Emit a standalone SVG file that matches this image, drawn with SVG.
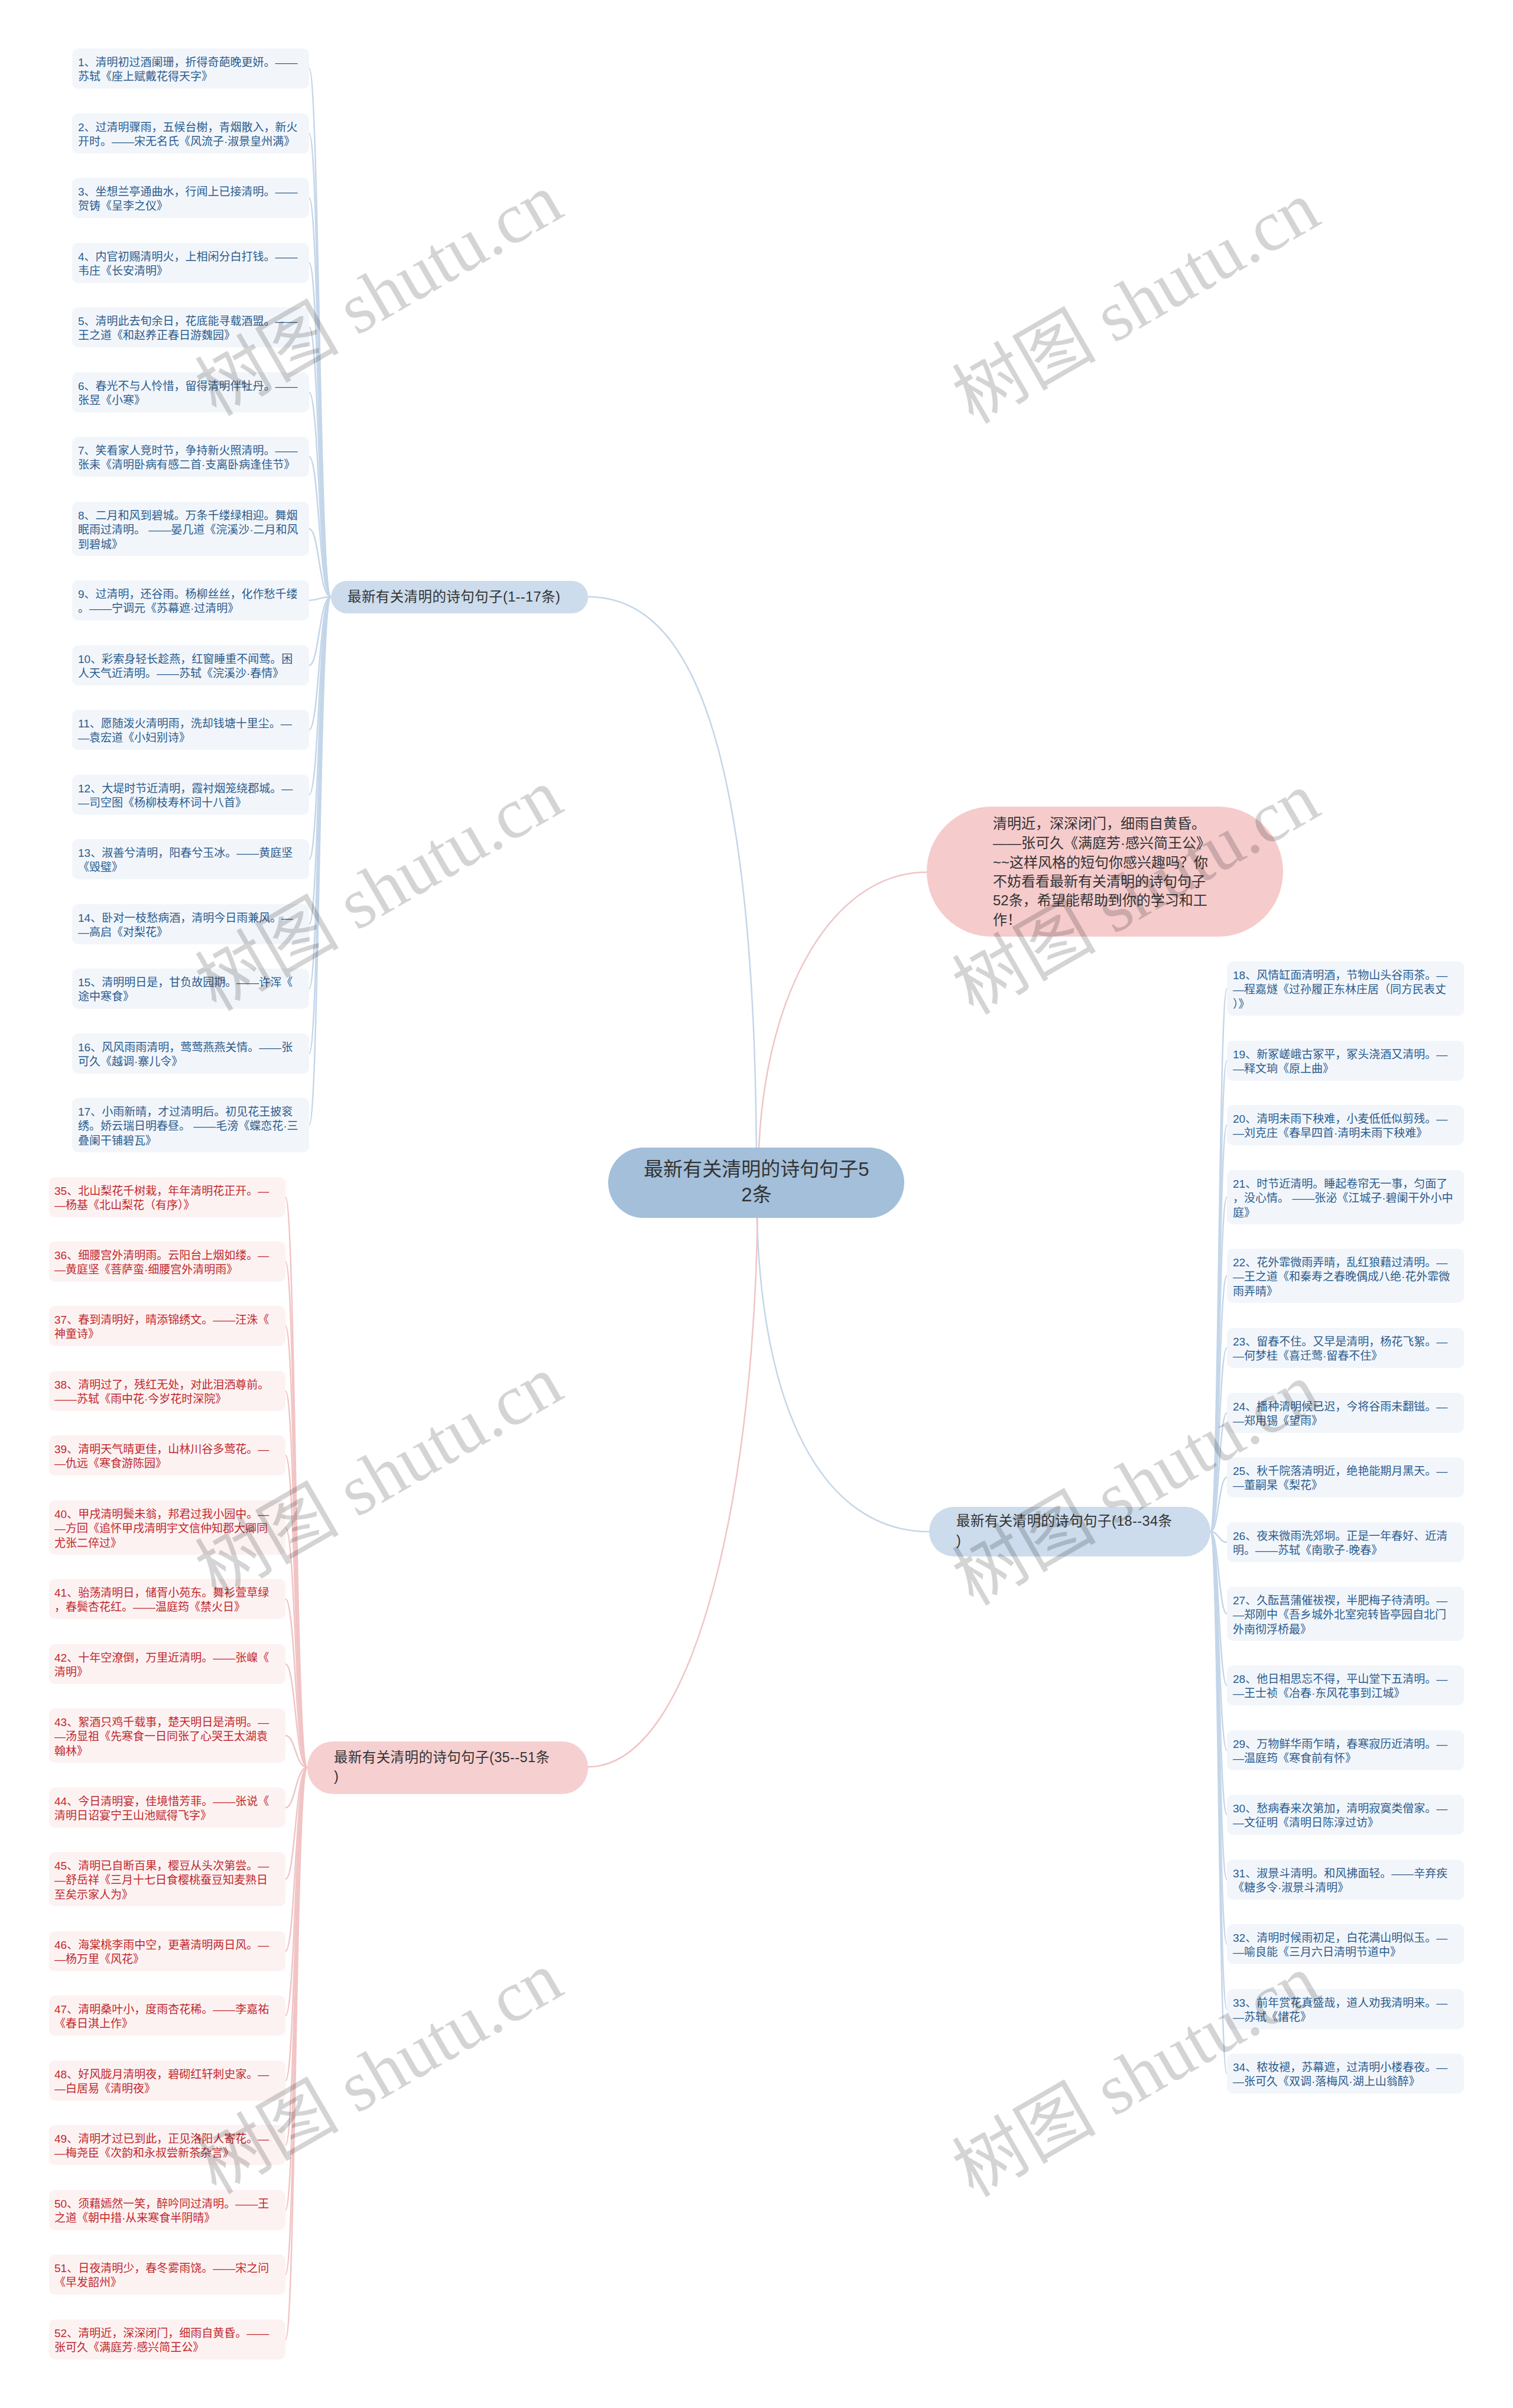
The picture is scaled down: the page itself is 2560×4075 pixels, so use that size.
<svg xmlns="http://www.w3.org/2000/svg" width="2560" height="4075" viewBox="0 0 2560 4075">
<style>
text{font-family:"Liberation Sans","Noto Sans CJK SC",sans-serif}
.cb{fill:none;stroke:#c4d6e9;stroke-width:2.5}
.cp{fill:none;stroke:#f1c4c5;stroke-width:2.5}
.bb{fill:#f2f6fb}
.pb{fill:#fdf2f2}
.bt{font-size:19px;fill:#2b5c8e}
.pt{font-size:19px;fill:#c0282d}
.br{font-size:23.5px;fill:#333;letter-spacing:0.4px}
.wm{font-family:"Liberation Serif","Noto Sans CJK SC",serif;font-size:122px;fill:#000;fill-opacity:0.17;text-anchor:middle}
</style>
<rect width="2560" height="4075" fill="#fff"/>
<g id="connectors">
<path class="cb" d="M995 1010 C1150 1010 1280 1200 1280 1990"/>
<path class="cp" d="M1568 1476 C1400 1476 1283 1700 1283 1990"/>
<path class="cb" d="M1280 2010 C1280 2400 1400 2592 1572 2592"/>
<path class="cp" d="M1282 2010 C1282 2500 1180 2990 995 2990"/>
<g id="c-left-top">
<path class="cb" d="M560 1010 C540 1010 540 116 523 116"/>
<path class="cb" d="M560 1010 C540 1010 540 226 523 226"/>
<path class="cb" d="M560 1010 C540 1010 540 335 523 335"/>
<path class="cb" d="M560 1010 C540 1010 540 445 523 445"/>
<path class="cb" d="M560 1010 C540 1010 540 554 523 554"/>
<path class="cb" d="M560 1010 C540 1010 540 664 523 664"/>
<path class="cb" d="M560 1010 C540 1010 540 773 523 773"/>
<path class="cb" d="M560 1010 C540 1010 540 895 523 895"/>
<path class="cb" d="M560 1010 C540 1010 540 1016 523 1016"/>
<path class="cb" d="M560 1010 C540 1010 540 1126 523 1126"/>
<path class="cb" d="M560 1010 C540 1010 540 1235 523 1235"/>
<path class="cb" d="M560 1010 C540 1010 540 1345 523 1345"/>
<path class="cb" d="M560 1010 C540 1010 540 1454 523 1454"/>
<path class="cb" d="M560 1010 C540 1010 540 1564 523 1564"/>
<path class="cb" d="M560 1010 C540 1010 540 1673 523 1673"/>
<path class="cb" d="M560 1010 C540 1010 540 1783 523 1783"/>
<path class="cb" d="M560 1010 C540 1010 540 1904 523 1904"/>
</g>
<g id="c-right">
<path class="cb" d="M2048 2592 C2062 2592 2062 1673 2076 1673"/>
<path class="cb" d="M2048 2592 C2062 2592 2062 1795 2076 1795"/>
<path class="cb" d="M2048 2592 C2062 2592 2062 1904 2076 1904"/>
<path class="cb" d="M2048 2592 C2062 2592 2062 2026 2076 2026"/>
<path class="cb" d="M2048 2592 C2062 2592 2062 2159 2076 2159"/>
<path class="cb" d="M2048 2592 C2062 2592 2062 2281 2076 2281"/>
<path class="cb" d="M2048 2592 C2062 2592 2062 2391 2076 2391"/>
<path class="cb" d="M2048 2592 C2062 2592 2062 2500 2076 2500"/>
<path class="cb" d="M2048 2592 C2062 2592 2062 2610 2076 2610"/>
<path class="cb" d="M2048 2592 C2062 2592 2062 2731 2076 2731"/>
<path class="cb" d="M2048 2592 C2062 2592 2062 2852 2076 2852"/>
<path class="cb" d="M2048 2592 C2062 2592 2062 2962 2076 2962"/>
<path class="cb" d="M2048 2592 C2062 2592 2062 3071 2076 3071"/>
<path class="cb" d="M2048 2592 C2062 2592 2062 3181 2076 3181"/>
<path class="cb" d="M2048 2592 C2062 2592 2062 3290 2076 3290"/>
<path class="cb" d="M2048 2592 C2062 2592 2062 3400 2076 3400"/>
<path class="cb" d="M2048 2592 C2062 2592 2062 3509 2076 3509"/>
</g>
<g id="c-left-bottom">
<path class="cp" d="M520 2991 C500 2991 500 2026 483 2026"/>
<path class="cp" d="M520 2991 C500 2991 500 2135 483 2135"/>
<path class="cp" d="M520 2991 C500 2991 500 2244 483 2244"/>
<path class="cp" d="M520 2991 C500 2991 500 2354 483 2354"/>
<path class="cp" d="M520 2991 C500 2991 500 2463 483 2463"/>
<path class="cp" d="M520 2991 C500 2991 500 2585 483 2585"/>
<path class="cp" d="M520 2991 C500 2991 500 2706 483 2706"/>
<path class="cp" d="M520 2991 C500 2991 500 2816 483 2816"/>
<path class="cp" d="M520 2991 C500 2991 500 2937 483 2937"/>
<path class="cp" d="M520 2991 C500 2991 500 3059 483 3059"/>
<path class="cp" d="M520 2991 C500 2991 500 3180 483 3180"/>
<path class="cp" d="M520 2991 C500 2991 500 3302 483 3302"/>
<path class="cp" d="M520 2991 C500 2991 500 3411 483 3411"/>
<path class="cp" d="M520 2991 C500 2991 500 3521 483 3521"/>
<path class="cp" d="M520 2991 C500 2991 500 3630 483 3630"/>
<path class="cp" d="M520 2991 C500 2991 500 3740 483 3740"/>
<path class="cp" d="M520 2991 C500 2991 500 3849 483 3849"/>
<path class="cp" d="M520 2991 C500 2991 500 3959 483 3959"/>
</g>
</g>

<g id="center">
<rect x="1029" y="1942" width="501" height="119" rx="59.5" fill="#a3bfda"/>
<text x="1280" y="1990" font-size="33" fill="#333" text-anchor="middle"><tspan x="1280" y="1990">最新有关清明的诗句句子5</tspan><tspan x="1280" y="2033">2条</tspan></text>
</g>

<g id="callout">
<rect x="1568" y="1365" width="603" height="220" rx="110" fill="#f5cbcc"/>
<text font-size="24" fill="#333"><tspan x="1680" y="1402">清明近，深深闭门，细雨自黄昏。</tspan><tspan x="1680" y="1435">——张可久《满庭芳·感兴简王公》</tspan><tspan x="1680" y="1468">~~这样风格的短句你感兴趣吗？你</tspan><tspan x="1680" y="1500">不妨看看最新有关清明的诗句句子</tspan><tspan x="1680" y="1532">52条，希望能帮助到你的学习和工</tspan><tspan x="1680" y="1565">作！</tspan></text>
</g>

<g id="branch-1-17">
<rect x="560" y="983" width="435" height="55" rx="27.5" fill="#ccdcec"/>
<text class="br" x="588" y="1018">最新有关清明的诗句句子(1--17条)</text>
</g>
<g id="branch-18-34">
<rect x="1572" y="2550" width="476" height="84" rx="42" fill="#ccdcec"/>
<text class="br"><tspan x="1618" y="2582">最新有关清明的诗句句子(18--34条</tspan><tspan x="1618" y="2615">)</tspan></text>
</g>
<g id="branch-35-51">
<rect x="520" y="2947" width="475" height="89" rx="44" fill="#f6cfd0"/>
<text class="br"><tspan x="565" y="2982">最新有关清明的诗句句子(35--51条</tspan><tspan x="565" y="3014">)</tspan></text>
</g>

<g id="n1"><rect class="bb" x="122" y="82" width="401" height="68" rx="10"/><text class="bt"><tspan x="132" y="111.5">1、清明初过酒阑珊，折得奇葩晚更妍。——</tspan><tspan x="132" y="136">苏轼《座上赋戴花得天字》</tspan></text></g>
<g id="n2"><rect class="bb" x="122" y="192" width="401" height="68" rx="10"/><text class="bt"><tspan x="132" y="221.5">2、过清明骤雨，五候台榭，青烟散入，新火</tspan><tspan x="132" y="246">开时。——宋无名氏《风流子·淑景皇州满》</tspan></text></g>
<g id="n3"><rect class="bb" x="122" y="301" width="401" height="68" rx="10"/><text class="bt"><tspan x="132" y="330.5">3、坐想兰亭通曲水，行闻上已接清明。——</tspan><tspan x="132" y="355">贺铸《呈李之仪》</tspan></text></g>
<g id="n4"><rect class="bb" x="122" y="411" width="401" height="68" rx="10"/><text class="bt"><tspan x="132" y="440.5">4、内官初赐清明火，上相闲分白打钱。——</tspan><tspan x="132" y="465">韦庄《长安清明》</tspan></text></g>
<g id="n5"><rect class="bb" x="122" y="520" width="401" height="68" rx="10"/><text class="bt"><tspan x="132" y="549.5">5、清明此去旬余日，花底能寻载酒盟。——</tspan><tspan x="132" y="574">王之道《和赵养正春日游魏园》</tspan></text></g>
<g id="n6"><rect class="bb" x="122" y="630" width="401" height="68" rx="10"/><text class="bt"><tspan x="132" y="659.5">6、春光不与人怜惜，留得清明伴牡丹。——</tspan><tspan x="132" y="684">张昱《小寒》</tspan></text></g>
<g id="n7"><rect class="bb" x="122" y="739" width="401" height="68" rx="10"/><text class="bt"><tspan x="132" y="768.5">7、笑看家人竞时节，争持新火照清明。——</tspan><tspan x="132" y="793">张耒《清明卧病有感二首·支离卧病逢佳节》</tspan></text></g>
<g id="n8"><rect class="bb" x="122" y="849" width="401" height="92" rx="10"/><text class="bt"><tspan x="132" y="878.5">8、二月和风到碧城。万条千缕绿相迎。舞烟</tspan><tspan x="132" y="903">眠雨过清明。 ——晏几道《浣溪沙·二月和风</tspan><tspan x="132" y="927.5">到碧城》</tspan></text></g>
<g id="n9"><rect class="bb" x="122" y="982" width="401" height="68" rx="10"/><text class="bt"><tspan x="132" y="1011.5">9、过清明，还谷雨。杨柳丝丝，化作愁千缕</tspan><tspan x="132" y="1036">。——宁调元《苏幕遮·过清明》</tspan></text></g>
<g id="n10"><rect class="bb" x="122" y="1092" width="401" height="68" rx="10"/><text class="bt"><tspan x="132" y="1121.5">10、彩索身轻长趁燕，红窗睡重不闻莺。困</tspan><tspan x="132" y="1146">人天气近清明。——苏轼《浣溪沙·春情》</tspan></text></g>
<g id="n11"><rect class="bb" x="122" y="1201" width="401" height="68" rx="10"/><text class="bt"><tspan x="132" y="1230.5">11、愿随泼火清明雨，洗却钱塘十里尘。—</tspan><tspan x="132" y="1255">—袁宏道《小妇别诗》</tspan></text></g>
<g id="n12"><rect class="bb" x="122" y="1311" width="401" height="68" rx="10"/><text class="bt"><tspan x="132" y="1340.5">12、大堤时节近清明，霞衬烟笼绕郡城。—</tspan><tspan x="132" y="1365">—司空图《杨柳枝寿杯词十八首》</tspan></text></g>
<g id="n13"><rect class="bb" x="122" y="1420" width="401" height="68" rx="10"/><text class="bt"><tspan x="132" y="1449.5">13、淑善兮清明，阳春兮玉冰。——黄庭坚</tspan><tspan x="132" y="1474">《毁璧》</tspan></text></g>
<g id="n14"><rect class="bb" x="122" y="1530" width="401" height="68" rx="10"/><text class="bt"><tspan x="132" y="1559.5">14、卧对一枝愁病酒，清明今日雨兼风。—</tspan><tspan x="132" y="1584">—高启《对梨花》</tspan></text></g>
<g id="n15"><rect class="bb" x="122" y="1639" width="401" height="68" rx="10"/><text class="bt"><tspan x="132" y="1668.5">15、清明明日是，甘负故园期。——许浑《</tspan><tspan x="132" y="1693">途中寒食》</tspan></text></g>
<g id="n16"><rect class="bb" x="122" y="1749" width="401" height="68" rx="10"/><text class="bt"><tspan x="132" y="1778.5">16、风风雨雨清明，莺莺燕燕关情。——张</tspan><tspan x="132" y="1803">可久《越调·寨儿令》</tspan></text></g>
<g id="n17"><rect class="bb" x="122" y="1858" width="401" height="92" rx="10"/><text class="bt"><tspan x="132" y="1887.5">17、小雨新晴，才过清明后。初见花王披衮</tspan><tspan x="132" y="1912">绣。娇云瑞日明春昼。 ——毛滂《蝶恋花·三</tspan><tspan x="132" y="1936.5">叠阑干铺碧瓦》</tspan></text></g>

<g id="n18"><rect class="bb" x="2076" y="1627" width="401" height="92" rx="10"/><text class="bt"><tspan x="2086" y="1656.5">18、风情缸面清明酒，节物山头谷雨茶。—</tspan><tspan x="2086" y="1681">—程嘉燧《过孙履正东林庄居（同方民表丈</tspan><tspan x="2086" y="1705.5">）》</tspan></text></g>
<g id="n19"><rect class="bb" x="2076" y="1761" width="401" height="68" rx="10"/><text class="bt"><tspan x="2086" y="1790.5">19、新冢嵯峨古冢平，冢头浇酒又清明。—</tspan><tspan x="2086" y="1815">—释文珦《原上曲》</tspan></text></g>
<g id="n20"><rect class="bb" x="2076" y="1870" width="401" height="68" rx="10"/><text class="bt"><tspan x="2086" y="1899.5">20、清明未雨下秧难，小麦低低似剪残。—</tspan><tspan x="2086" y="1924">—刘克庄《春旱四首·清明未雨下秧难》</tspan></text></g>
<g id="n21"><rect class="bb" x="2076" y="1980" width="401" height="92" rx="10"/><text class="bt"><tspan x="2086" y="2009.5">21、时节近清明。睡起卷帘无一事，匀面了</tspan><tspan x="2086" y="2034">，没心情。 ——张泌《江城子·碧阑干外小中</tspan><tspan x="2086" y="2058.5">庭》</tspan></text></g>
<g id="n22"><rect class="bb" x="2076" y="2113" width="401" height="92" rx="10"/><text class="bt"><tspan x="2086" y="2142.5">22、花外霏微雨弄晴，乱红狼藉过清明。—</tspan><tspan x="2086" y="2167">—王之道《和秦寿之春晚偶成八绝·花外霏微</tspan><tspan x="2086" y="2191.5">雨弄晴》</tspan></text></g>
<g id="n23"><rect class="bb" x="2076" y="2247" width="401" height="68" rx="10"/><text class="bt"><tspan x="2086" y="2276.5">23、留春不住。又早是清明，杨花飞絮。—</tspan><tspan x="2086" y="2301">—何梦桂《喜迁莺·留春不住》</tspan></text></g>
<g id="n24"><rect class="bb" x="2076" y="2357" width="401" height="68" rx="10"/><text class="bt"><tspan x="2086" y="2386.5">24、播种清明候已迟，今将谷雨未翻镃。—</tspan><tspan x="2086" y="2411">—郑用锡《望雨》</tspan></text></g>
<g id="n25"><rect class="bb" x="2076" y="2466" width="401" height="68" rx="10"/><text class="bt"><tspan x="2086" y="2495.5">25、秋千院落清明近，绝艳能期月黑天。—</tspan><tspan x="2086" y="2520">—董嗣杲《梨花》</tspan></text></g>
<g id="n26"><rect class="bb" x="2076" y="2576" width="401" height="68" rx="10"/><text class="bt"><tspan x="2086" y="2605.5">26、夜来微雨洗郊坰。正是一年春好、近清</tspan><tspan x="2086" y="2630">明。——苏轼《南歌子·晚春》</tspan></text></g>
<g id="n27"><rect class="bb" x="2076" y="2685" width="401" height="92" rx="10"/><text class="bt"><tspan x="2086" y="2714.5">27、久酝菖蒲催祓禊，半肥梅子待清明。—</tspan><tspan x="2086" y="2739">—郑刚中《吾乡城外北室宛转皆亭园自北门</tspan><tspan x="2086" y="2763.5">外南彻浮桥最》</tspan></text></g>
<g id="n28"><rect class="bb" x="2076" y="2818" width="401" height="68" rx="10"/><text class="bt"><tspan x="2086" y="2847.5">28、他日相思忘不得，平山堂下五清明。—</tspan><tspan x="2086" y="2872">—王士祯《冶春·东风花事到江城》</tspan></text></g>
<g id="n29"><rect class="bb" x="2076" y="2928" width="401" height="68" rx="10"/><text class="bt"><tspan x="2086" y="2957.5">29、万物鲜华雨乍晴，春寒寂历近清明。—</tspan><tspan x="2086" y="2982">—温庭筠《寒食前有怀》</tspan></text></g>
<g id="n30"><rect class="bb" x="2076" y="3037" width="401" height="68" rx="10"/><text class="bt"><tspan x="2086" y="3066.5">30、愁病春来次第加，清明寂寞类僧家。—</tspan><tspan x="2086" y="3091">—文征明《清明日陈淳过访》</tspan></text></g>
<g id="n31"><rect class="bb" x="2076" y="3147" width="401" height="68" rx="10"/><text class="bt"><tspan x="2086" y="3176.5">31、淑景斗清明。和风拂面轻。——辛弃疾</tspan><tspan x="2086" y="3201">《糖多令·淑景斗清明》</tspan></text></g>
<g id="n32"><rect class="bb" x="2076" y="3256" width="401" height="68" rx="10"/><text class="bt"><tspan x="2086" y="3285.5">32、清明时候雨初足，白花满山明似玉。—</tspan><tspan x="2086" y="3310">—喻良能《三月六日清明节道中》</tspan></text></g>
<g id="n33"><rect class="bb" x="2076" y="3366" width="401" height="68" rx="10"/><text class="bt"><tspan x="2086" y="3395.5">33、前年赏花真盛哉，道人劝我清明来。—</tspan><tspan x="2086" y="3420">—苏轼《惜花》</tspan></text></g>
<g id="n34"><rect class="bb" x="2076" y="3475" width="401" height="68" rx="10"/><text class="bt"><tspan x="2086" y="3504.5">34、秾妆褪，苏幕遮，过清明小楼春夜。—</tspan><tspan x="2086" y="3529">—张可久《双调·落梅风·湖上山翁醉》</tspan></text></g>

<g id="n35"><rect class="pb" x="83" y="1992" width="400" height="68" rx="10"/><text class="pt"><tspan x="92" y="2021.5">35、北山梨花千树栽，年年清明花正开。—</tspan><tspan x="92" y="2046">—杨基《北山梨花（有序）》</tspan></text></g>
<g id="n36"><rect class="pb" x="83" y="2101" width="400" height="68" rx="10"/><text class="pt"><tspan x="92" y="2130.5">36、细腰宫外清明雨。云阳台上烟如缕。—</tspan><tspan x="92" y="2155">—黄庭坚《菩萨蛮·细腰宫外清明雨》</tspan></text></g>
<g id="n37"><rect class="pb" x="83" y="2210" width="400" height="68" rx="10"/><text class="pt"><tspan x="92" y="2239.5">37、春到清明好，晴添锦绣文。——汪洙《</tspan><tspan x="92" y="2264">神童诗》</tspan></text></g>
<g id="n38"><rect class="pb" x="83" y="2320" width="400" height="68" rx="10"/><text class="pt"><tspan x="92" y="2349.5">38、清明过了，残红无处，对此泪洒尊前。</tspan><tspan x="92" y="2374">——苏轼《雨中花·今岁花时深院》</tspan></text></g>
<g id="n39"><rect class="pb" x="83" y="2429" width="400" height="68" rx="10"/><text class="pt"><tspan x="92" y="2458.5">39、清明天气晴更佳，山林川谷多莺花。—</tspan><tspan x="92" y="2483">—仇远《寒食游陈园》</tspan></text></g>
<g id="n40"><rect class="pb" x="83" y="2539" width="400" height="92" rx="10"/><text class="pt"><tspan x="92" y="2568.5">40、甲戌清明鬓未翁，邦君过我小园中。—</tspan><tspan x="92" y="2593">—方回《追怀甲戌清明宇文信仲知郡大卿同</tspan><tspan x="92" y="2617.5">尤张二倅过》</tspan></text></g>
<g id="n41"><rect class="pb" x="83" y="2672" width="400" height="68" rx="10"/><text class="pt"><tspan x="92" y="2701.5">41、骀荡清明日，储胥小苑东。舞衫萱草绿</tspan><tspan x="92" y="2726">，春鬓杏花红。——温庭筠《禁火日》</tspan></text></g>
<g id="n42"><rect class="pb" x="83" y="2782" width="400" height="68" rx="10"/><text class="pt"><tspan x="92" y="2811.5">42、十年空潦倒，万里近清明。——张嵲《</tspan><tspan x="92" y="2836">清明》</tspan></text></g>
<g id="n43"><rect class="pb" x="83" y="2891" width="400" height="92" rx="10"/><text class="pt"><tspan x="92" y="2920.5">43、絮酒只鸡千载事，楚天明日是清明。—</tspan><tspan x="92" y="2945">—汤显祖《先寒食一日同张了心哭王太湖袁</tspan><tspan x="92" y="2969.5">翰林》</tspan></text></g>
<g id="n44"><rect class="pb" x="83" y="3025" width="400" height="68" rx="10"/><text class="pt"><tspan x="92" y="3054.5">44、今日清明宴，佳境惜芳菲。——张说《</tspan><tspan x="92" y="3079">清明日诏宴宁王山池赋得飞字》</tspan></text></g>
<g id="n45"><rect class="pb" x="83" y="3134" width="400" height="92" rx="10"/><text class="pt"><tspan x="92" y="3163.5">45、清明已自断百果，樱豆从头次第尝。—</tspan><tspan x="92" y="3188">—舒岳祥《三月十七日食樱桃蚕豆知麦熟日</tspan><tspan x="92" y="3212.5">至矣示家人为》</tspan></text></g>
<g id="n46"><rect class="pb" x="83" y="3268" width="400" height="68" rx="10"/><text class="pt"><tspan x="92" y="3297.5">46、海棠桃李雨中空，更著清明两日风。—</tspan><tspan x="92" y="3322">—杨万里《风花》</tspan></text></g>
<g id="n47"><rect class="pb" x="83" y="3377" width="400" height="68" rx="10"/><text class="pt"><tspan x="92" y="3406.5">47、清明桑叶小，度雨杏花稀。——李嘉祐</tspan><tspan x="92" y="3431">《春日淇上作》</tspan></text></g>
<g id="n48"><rect class="pb" x="83" y="3487" width="400" height="68" rx="10"/><text class="pt"><tspan x="92" y="3516.5">48、好风胧月清明夜，碧砌红轩刺史家。—</tspan><tspan x="92" y="3541">—白居易《清明夜》</tspan></text></g>
<g id="n49"><rect class="pb" x="83" y="3596" width="400" height="68" rx="10"/><text class="pt"><tspan x="92" y="3625.5">49、清明才过已到此，正见洛阳人寄花。—</tspan><tspan x="92" y="3650">—梅尧臣《次韵和永叔尝新茶杂言》</tspan></text></g>
<g id="n50"><rect class="pb" x="83" y="3706" width="400" height="68" rx="10"/><text class="pt"><tspan x="92" y="3735.5">50、须藉嫣然一笑，醉吟同过清明。——王</tspan><tspan x="92" y="3760">之道《朝中措·从来寒食半阴晴》</tspan></text></g>
<g id="n51"><rect class="pb" x="83" y="3815" width="400" height="68" rx="10"/><text class="pt"><tspan x="92" y="3844.5">51、日夜清明少，春冬雾雨饶。——宋之问</tspan><tspan x="92" y="3869">《早发韶州》</tspan></text></g>
<g id="n52"><rect class="pb" x="83" y="3925" width="400" height="68" rx="10"/><text class="pt"><tspan x="92" y="3954.5">52、清明近，深深闭门，细雨自黄昏。——</tspan><tspan x="92" y="3979">张可久《满庭芳·感兴简王公》</tspan></text></g>

<g id="watermarks">
<text class="wm" x="642" y="540" transform="rotate(-30 642 500)">树图 shutu.cn</text>
<text class="wm" x="1923" y="553" transform="rotate(-30 1923 513)">树图 shutu.cn</text>
<text class="wm" x="642" y="1547" transform="rotate(-30 642 1507)">树图 shutu.cn</text>
<text class="wm" x="1923" y="1553" transform="rotate(-30 1923 1513)">树图 shutu.cn</text>
<text class="wm" x="642" y="2540" transform="rotate(-30 642 2500)">树图 shutu.cn</text>
<text class="wm" x="1923" y="2553" transform="rotate(-30 1923 2513)">树图 shutu.cn</text>
<text class="wm" x="642" y="3549" transform="rotate(-30 642 3509)">树图 shutu.cn</text>
<text class="wm" x="1923" y="3554" transform="rotate(-30 1923 3514)">树图 shutu.cn</text>
</g>
</svg>
